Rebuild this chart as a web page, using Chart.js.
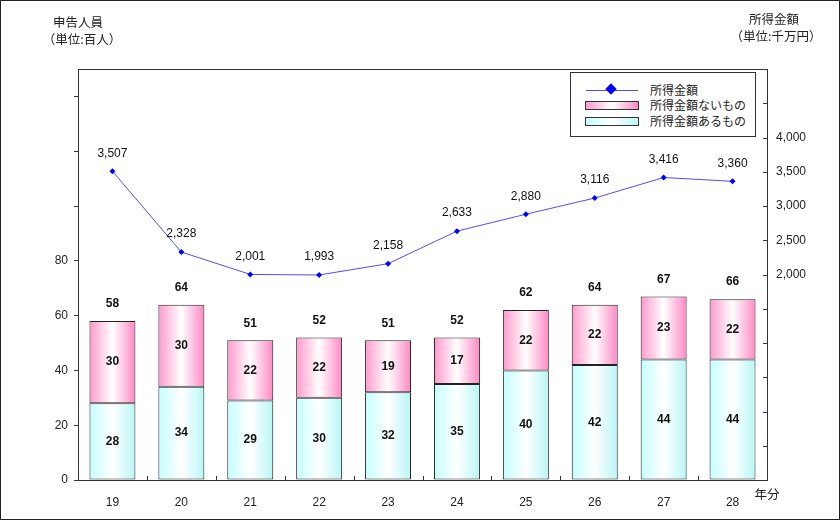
<!DOCTYPE html>
<html>
<head>
<meta charset="utf-8">
<script src="https://cdn.jsdelivr.net/npm/chart.js@4"></script>
<style>
body { margin:0; background:#fff; }
#wrap { position:relative; width:840px; height:520px; font-family:"Liberation Sans","Noto Sans CJK JP",sans-serif; color:#222; }
#frame { position:absolute; left:0; top:0; width:838px; height:518px; border:1px solid #222; pointer-events:none; }
.t { position:absolute; font-size:12.5px; white-space:nowrap; transform:translateX(-50%); font-family:"Noto Sans CJK JP",sans-serif; }
#legend { position:absolute; left:570px; top:72px; width:184px; height:63px; border:1px solid #333; background:#fff; font-family:"Noto Sans CJK JP",sans-serif; font-size:12px; }
.row { position:absolute; left:0; height:16px; line-height:16px; }
.row span { position:absolute; left:79px; top:0; white-space:nowrap; }
.sw { position:absolute; left:14px; top:4px; width:52px; height:7px; border:1px solid #333; }
</style>
</head>
<body>
<div id="wrap">
<canvas id="myChart" width="840" height="520"></canvas>
<div class="t" style="left:78px;top:12px;">申告人員</div>
<div class="t" style="left:82px;top:29px;">（単位:百人）</div>
<div class="t" style="left:774px;top:9px;">所得金額</div>
<div class="t" style="left:776px;top:26px;">（単位:千万円）</div>
<div class="t" style="left:767px;top:484px;">年分</div>
<div id="legend">
  <div class="row" style="top:9px;width:184px;">
    <div style="position:absolute;left:15px;top:8px;width:52px;height:1px;background:#4d4dff;"></div>
    <div style="position:absolute;left:36px;top:3px;width:8px;height:8px;background:#0000ff;transform:rotate(45deg);"></div>
    <span>所得金額</span>
  </div>
  <div class="row" style="top:24px;width:184px;">
    <div class="sw" style="background:linear-gradient(to right,#ff99cc,#ffffff 50%,#ff88c4);"></div>
    <span>所得金額ないもの</span>
  </div>
  <div class="row" style="top:40px;width:184px;">
    <div class="sw" style="background:linear-gradient(to right,#c4ffff,#ffffff 50%,#b8f6f6);"></div>
    <span>所得金額あるもの</span>
  </div>
</div>
<div id="frame"></div>
</div>
<script>
// 年分
var years = ['19','20','21','22','23','24','25','26','27','28'];
// 申告人員（百人）
var withIncome = [28, 34, 29, 30, 32, 35, 40, 42, 44, 44];
var withoutIncome = [30, 30, 22, 22, 19, 17, 22, 22, 23, 22];
var totals = [58, 64, 51, 52, 51, 52, 62, 64, 67, 66];
// 所得金額（千万円）
var income = [3507, 2328, 2001, 1993, 2158, 2633, 2880, 3116, 3416, 3360];

var barPct = 0.667;
var numFont = '"Liberation Sans", Arial, sans-serif';

function barGradient(c, stops) {
    var chart = c.chart;
    var xs = chart.scales.x;
    if (c.dataIndex === undefined || !xs || !chart.chartArea) return stops[1];
    var cx = xs.getPixelForValue(c.dataIndex);
    var w = xs.width / years.length * barPct;
    var g = chart.ctx.createLinearGradient(cx - w / 2, 0, cx + w / 2, 0);
    g.addColorStop(0, stops[0]);
    g.addColorStop(0.5, stops[1]);
    g.addColorStop(1, stops[2]);
    return g;
}

const framePlugin = {
    id: 'frame',
    afterDraw(chart) {
        const ctx = chart.ctx;
        const a = chart.chartArea;
        ctx.save();
        ctx.strokeStyle = '#333';
        ctx.lineWidth = 1;
        ctx.strokeRect(Math.round(a.left) + 0.5, Math.round(a.top) + 0.5, Math.round(a.right - a.left), Math.round(a.bottom - a.top));
        // small inward ticks between categories
        const xs = chart.scales.x;
        ctx.beginPath();
        for (let i = 1; i < years.length; i++) {
            const px = Math.round((xs.getPixelForValue(i - 1) + xs.getPixelForValue(i)) / 2) + 0.5;
            ctx.moveTo(px, a.bottom);
            ctx.lineTo(px, a.bottom - 4);
        }
        // inward ticks on the right axis
        const y1 = chart.scales.y1;
        y1.ticks.forEach(t => {
            const py = Math.round(y1.getPixelForValue(t.value)) + 0.5;
            if (py < a.top + 2 || py > a.bottom - 2) return;
            ctx.moveTo(a.right, py);
            ctx.lineTo(a.right - 4, py);
        });
        ctx.stroke();
        ctx.restore();
    }
};

const labelPlugin = {
    id: 'labels',
    afterDatasetsDraw(chart) {
        const ctx = chart.ctx;
        ctx.save();
        ctx.textAlign = 'center';
        ctx.textBaseline = 'middle';
        ctx.fillStyle = '#111';
        ctx.font = 'bold 12px ' + numFont;
        [0, 1].forEach(di => {
            const meta = chart.getDatasetMeta(di);
            meta.data.forEach((el, i) => {
                ctx.fillText(chart.data.datasets[di].data[i], el.x, (el.y + el.base) / 2);
            });
        });
        const top = chart.getDatasetMeta(1);
        top.data.forEach((el, i) => {
            ctx.fillText(totals[i], el.x, el.y - 17);
        });
        ctx.font = '12px ' + numFont;
        const line = chart.getDatasetMeta(2);
        line.data.forEach((el, i) => {
            ctx.fillText(income[i].toLocaleString('en-US'), el.x, el.y - 18);
        });
        ctx.restore();
    }
};

const ctx = document.getElementById('myChart');
new Chart(ctx, {
    type: 'bar',
    data: {
        labels: years,
        datasets: [
            {
                label: '所得金額あるもの',
                data: withIncome,
                backgroundColor: c => barGradient(c, ['#c4ffff', '#ffffff', '#b8f6f6']),
                borderColor: '#222',
                borderWidth: 1,
                borderSkipped: false,
                stack: 's',
                yAxisID: 'y',
                order: 1
            },
            {
                label: '所得金額ないもの',
                data: withoutIncome,
                backgroundColor: c => barGradient(c, ['#ff99cc', '#ffffff', '#ff88c4']),
                borderColor: '#222',
                borderWidth: 1,
                borderSkipped: false,
                stack: 's',
                yAxisID: 'y',
                order: 2
            },
            {
                type: 'line',
                label: '所得金額',
                data: income,
                yAxisID: 'y1',
                borderColor: '#4d4dff',
                borderWidth: 1,
                pointStyle: 'rectRot',
                pointRadius: 3,
                pointBackgroundColor: '#0000ff',
                pointBorderColor: '#0000ff',
                pointBorderWidth: 0,
                order: 0
            }
        ]
    },
    options: {
        responsive: false,
        animation: false,
        layout: { padding: { left: 0, right: 0, top: 69, bottom: 0 } },
        datasets: { bar: { categoryPercentage: 1, barPercentage: barPct } },
        plugins: { legend: { display: false }, tooltip: { enabled: false } },
        scales: {
            x: {
                stacked: true,
                grid: { display: false },
                border: { display: false },
                ticks: { color: '#222', font: { family: numFont, size: 12 }, padding: 7, maxRotation: 0 },
                afterFit: s => { s.height = 40; }
            },
            y: {
                stacked: true,
                position: 'left',
                min: 0,
                max: 150,
                afterBuildTicks: s => { s.ticks = s.ticks.filter(t => t.value % 20 === 0); },
                ticks: {
                    stepSize: 20,
                    color: '#222',
                    font: { family: numFont, size: 12 },
                    padding: 6,
                    callback: v => (v <= 80 ? v : '')
                },
                grid: { drawOnChartArea: false, tickLength: 4, color: '#333' },
                border: { display: false },
                afterFit: s => { s.width = 78; }
            },
            y1: {
                position: 'right',
                min: -1000,
                max: 5000,
                ticks: {
                    stepSize: 500,
                    color: '#222',
                    font: { family: numFont, size: 12 },
                    padding: 9,
                    callback: v => (v >= 2000 && v <= 4000 ? v.toLocaleString('en-US') : '')
                },
                grid: { display: false, drawTicks: false },
                border: { display: false },
                afterFit: s => { s.width = 73; }
            }
        }
    },
    plugins: [framePlugin, labelPlugin]
});
</script>
</body>
</html>
